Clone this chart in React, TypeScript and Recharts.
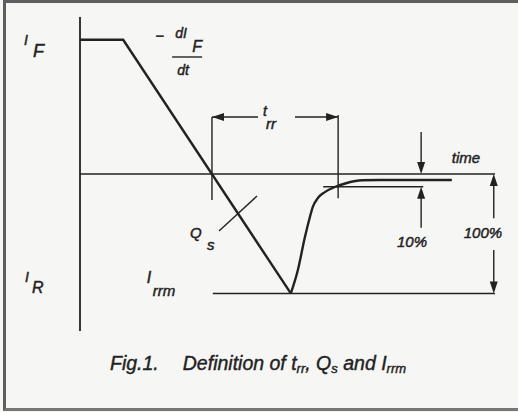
import { ComposedChart, Line, XAxis, YAxis, ReferenceLine, ReferenceDot } from 'recharts'

// time axis 0..100 (arbitrary units), current normalised to I_F = 1
const fallTime = [0, 10.4, 50.8]
const fallCurrent = [1, 1, -0.89]

const recoveryTime = [50.8, 52.5, 54.2, 55.4, 56.1, 57.3, 59.0, 61.4, 64.3, 68.0, 72.0, 89.6]
const recoveryCurrent = [-0.89, -0.715, -0.47, -0.32, -0.245, -0.18, -0.135, -0.097, -0.067, -0.047, -0.045, -0.045]

const IRRM = -0.89
const TEN_PCT = -0.095
const T_ZERO = 31.8
const T_RR_END = 62.2
const T_END = 100

const fall = fallTime.map((t, k) => ({ t, i: fallCurrent[k] }))
const recovery = recoveryTime.map((t, k) => ({ t, i: recoveryCurrent[k] }))

const INK = '#222'
const FONT = '"Liberation Sans", Arial, sans-serif'
const TEXT = { fontFamily: FONT, fontStyle: 'italic', fill: INK, stroke: INK, strokeWidth: 0.45 } as const

const head = (dir: 'up' | 'down' | 'left' | 'right') => (p: any) => {
  const { cx, cy } = p
  const L = 12
  const W = 4
  let pts = ''
  if (dir === 'down') pts = `${cx},${cy} ${cx - W},${cy - L} ${cx + W},${cy - L}`
  if (dir === 'up') pts = `${cx},${cy} ${cx - W},${cy + L} ${cx + W},${cy + L}`
  if (dir === 'left') pts = `${cx},${cy} ${cx + L},${cy - W} ${cx + L},${cy + W}`
  if (dir === 'right') pts = `${cx},${cy} ${cx - L},${cy - W} ${cx - L},${cy + W}`
  return <polygon points={pts} fill={INK} />
}

// main letter + subscript, drawn from the baseline of the main letter
const sym = (main: string, sub: string, size: number, subSize: number, dx: number, dy: number) => (p: any) => (
  <g {...TEXT}>
    <text x={p.cx} y={p.cy} fontSize={size}>{main}</text>
    <text x={p.cx + dx} y={p.cy + dy} fontSize={subSize}>{sub}</text>
  </g>
)

const word = (s: string, size: number, anchor: 'start' | 'middle') => (p: any) => (
  <text x={p.cx} y={p.cy} fontSize={size} textAnchor={anchor} {...TEXT}>
    {s}
  </text>
)

const slope = (p: any) => (
  <g {...TEXT}>
    <text x={p.cx - 17} y={p.cy - 16} fontSize={15}>−</text>
    <text x={p.cx + 3} y={p.cy - 19} fontSize={14}>dI</text>
    <text x={p.cx + 20} y={p.cy - 5} fontSize={16}>F</text>
    <line x1={p.cx} y1={p.cy} x2={p.cx + 30} y2={p.cy} stroke={INK} strokeWidth={1.4} />
    <text x={p.cx + 5} y={p.cy + 18} fontSize={14}>dt</text>
  </g>
)

export default function App() {
  const thin = { stroke: INK, strokeWidth: 1.4 }
  return (
    <div style={{ position: 'absolute', left: 0, top: 0, width: 518, height: 412, overflow: 'hidden', background: '#f6f6f4' }}>
      <div
        style={{
          position: 'absolute',
          left: 3,
          top: 0,
          width: 540,
          height: 411,
          borderTop: '3px solid #5e5e5e',
          borderLeft: '3px solid #5e5e5e',
          borderBottom: '3px solid #777',
          boxSizing: 'border-box',
        }}
      />
      <ComposedChart width={518} height={412} margin={{ top: 17, right: 23, bottom: 81, left: 80 }}>
        <XAxis type="number" dataKey="t" domain={[0, T_END]} hide allowDataOverflow />
        <YAxis type="number" domain={[-1.17, 1.17]} hide allowDataOverflow />

        <ReferenceLine x={0} stroke={INK} strokeWidth={1.8} />
        <ReferenceLine y={0} {...thin} />
        <ReferenceLine segment={[{ x: 32, y: IRRM }, { x: T_END, y: IRRM }]} {...thin} />
        <ReferenceLine segment={[{ x: 58.6, y: TEN_PCT }, { x: 82.7, y: TEN_PCT }]} {...thin} />

        {/* t_rr markers */}
        <ReferenceLine segment={[{ x: T_ZERO, y: 0.425 }, { x: T_ZERO, y: -0.194 }]} {...thin} />
        <ReferenceLine segment={[{ x: T_RR_END, y: 0.44 }, { x: T_RR_END, y: -0.18 }]} {...thin} />
        <ReferenceLine segment={[{ x: T_ZERO, y: 0.425 }, { x: 42.9, y: 0.425 }]} {...thin} />
        <ReferenceLine segment={[{ x: 51.8, y: 0.425 }, { x: T_RR_END, y: 0.425 }]} {...thin} />
        <ReferenceDot x={T_ZERO} y={0.425} shape={head('left')} />
        <ReferenceDot x={T_RR_END} y={0.425} shape={head('right')} />

        {/* Q_s pointer */}
        <ReferenceLine segment={[{ x: 33.5, y: -0.425 }, { x: 42.65, y: -0.164 }]} {...thin} />

        {/* 10% arrows */}
        <ReferenceLine segment={[{ x: 82.2, y: 0.313 }, { x: 82.2, y: 0.05 }]} {...thin} />
        <ReferenceDot x={82.2} y={0} shape={head('down')} />
        <ReferenceLine segment={[{ x: 82.2, y: -0.4 }, { x: 82.2, y: -0.15 }]} {...thin} />
        <ReferenceDot x={82.2} y={TEN_PCT} shape={head('up')} />

        {/* 100% arrows */}
        <ReferenceLine segment={[{ x: 99.7, y: -0.33 }, { x: 99.7, y: -0.05 }]} {...thin} />
        <ReferenceDot x={99.7} y={0} shape={head('up')} />
        <ReferenceLine segment={[{ x: 99.7, y: -0.566 }, { x: 99.7, y: -0.84 }]} {...thin} />
        <ReferenceDot x={99.7} y={IRRM} shape={head('down')} />

        <Line data={fall} dataKey="i" type="linear" stroke={INK} strokeWidth={2.4} dot={false} isAnimationActive={false} />
        <Line data={recovery} dataKey="i" type="monotone" stroke={INK} strokeWidth={2.4} dot={false} isAnimationActive={false} />

        {/* labels */}
        <ReferenceDot x={-13.5} y={0.961} ifOverflow="visible" shape={sym('I', 'F', 14, 18, 9, 12)} />
        <ReferenceDot x={22.2} y={0.872} ifOverflow="visible" shape={slope} />
        <ReferenceDot x={44.1} y={0.43} ifOverflow="visible" shape={sym('t', 'rr', 14, 15, 3, 13)} />
        <ReferenceDot x={26.5} y={-0.477} ifOverflow="visible" shape={sym('Q', 's', 15, 15, 17, 12)} />
        <ReferenceDot x={-13.25} y={-0.805} ifOverflow="visible" shape={sym('I', 'R', 14, 16, 7, 11)} />
        <ReferenceDot x={16.1} y={-0.812} ifOverflow="visible" shape={sym('I', 'rrm', 16, 15, 6, 13)} />
        <ReferenceDot x={89.6} y={0.082} ifOverflow="visible" shape={word('time', 15, 'start')} />
        <ReferenceDot x={80.0} y={-0.544} ifOverflow="visible" shape={word('10%', 15, 'middle')} />
        <ReferenceDot x={97.1} y={-0.477} ifOverflow="visible" shape={word('100%', 15, 'middle')} />
      </ComposedChart>
      <div
        style={{
          position: 'absolute',
          left: 110,
          top: 354,
          fontFamily: FONT,
          fontStyle: 'italic',
          fontSize: 19.5,
          lineHeight: '19px',
          color: INK,
          WebkitTextStroke: '0.4px #222',
          whiteSpace: 'nowrap',
        }}
      >
        Fig.1.<span style={{ marginLeft: 24 }}>Definition of t</span>
        <sub style={{ fontSize: 13, verticalAlign: -3 }}>rr</sub>, Q
        <sub style={{ fontSize: 13, verticalAlign: -3 }}>s</sub> and I
        <sub style={{ fontSize: 13, verticalAlign: -3 }}>rrm</sub>
      </div>
    </div>
  )
}
